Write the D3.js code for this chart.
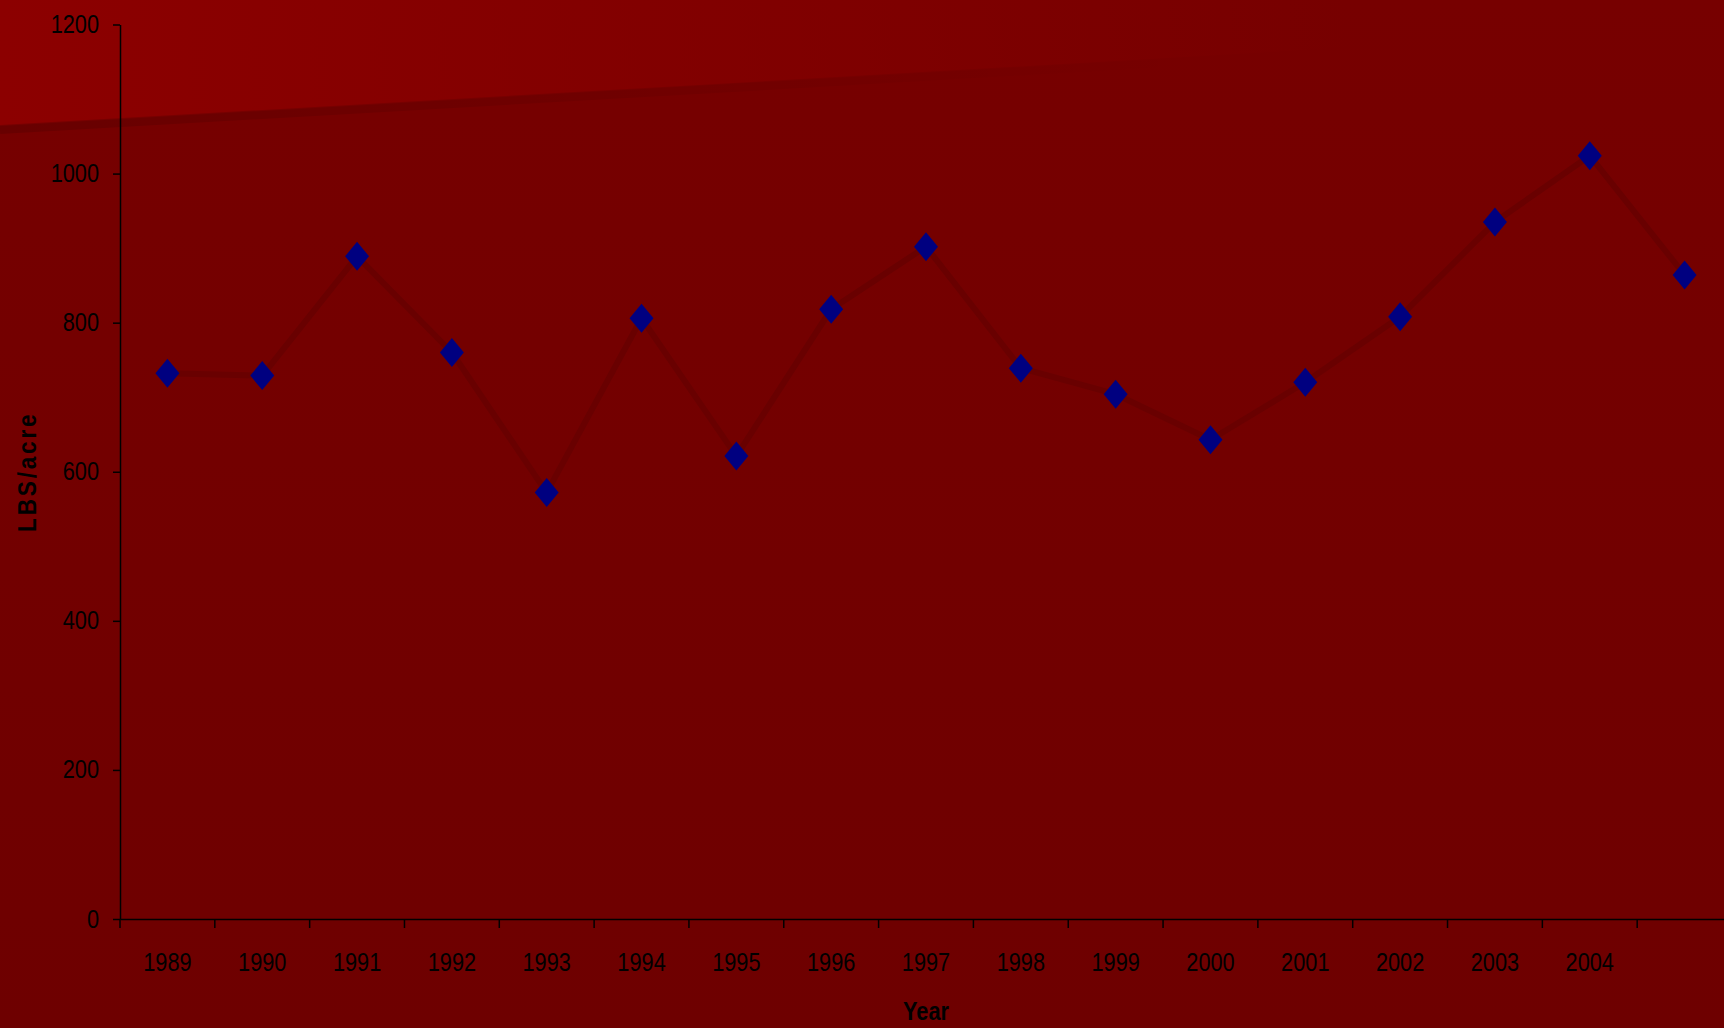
<!DOCTYPE html>
<html>
<head>
<meta charset="utf-8">
<script src="https://cdn.jsdelivr.net/npm/d3@7"></script>
<style>
  body { margin: 0; background: #740000; }
  svg { display: block; }
  text { font-family: "Liberation Sans", Arial, sans-serif; fill: #000; }
</style>
</head>
<body>
<svg id="chart" width="1724" height="1028"></svg>
<script>
// yield per year, LBS/acre
var years = ["1989","1990","1991","1992","1993","1994","1995","1996","1997","1998","1999","2000","2001","2002","2003","2004","2005"];
var yearLabels = ["1989","1990","1991","1992","1993","1994","1995","1996","1997","1998","1999","2000","2001","2002","2003","2004",""];
var lbsPerAcre = [732, 729, 889, 760, 572, 806, 621, 818, 902, 739, 704, 643, 720, 808, 935, 1024, 864];
var yTicks = [0, 200, 400, 600, 800, 1000, 1200];

var W = 1724, H = 1028;
var narrow = 0.87; // squeeze text to look like a narrow face
var svg = d3.select("#chart");
var defs = svg.append("defs");

// background: dark red with a glossy band top-left
var bg = defs.append("linearGradient").attr("id", "bg").attr("x1", 0).attr("y1", 0).attr("x2", 0).attr("y2", 1);
bg.append("stop").attr("offset", "0%").attr("stop-color", "#770000");
bg.append("stop").attr("offset", "100%").attr("stop-color", "#6e0000");
var gloss = defs.append("linearGradient").attr("id", "gloss").attr("gradientUnits", "userSpaceOnUse")
  .attr("x1", 0).attr("y1", 0).attr("x2", 1350).attr("y2", 0);
gloss.append("stop").attr("offset", "0%").attr("stop-color", "#8c0000").attr("stop-opacity", 1);
gloss.append("stop").attr("offset", "100%").attr("stop-color", "#8c0000").attr("stop-opacity", 0);
var edge = defs.append("linearGradient").attr("id", "edge").attr("gradientUnits", "userSpaceOnUse")
  .attr("x1", 0).attr("y1", 0).attr("x2", 1200).attr("y2", 0);
edge.append("stop").attr("offset", "0%").attr("stop-color", "#000").attr("stop-opacity", 0.12);
edge.append("stop").attr("offset", "100%").attr("stop-color", "#000").attr("stop-opacity", 0);

svg.append("rect").attr("width", W).attr("height", H).attr("fill", "url(#bg)");
svg.append("path").attr("d", "M0,0L" + W + ",0L" + W + ",26L0,125Z").attr("fill", "url(#gloss)");
svg.append("path").attr("d", "M0,130L" + W + ",31").attr("stroke", "url(#edge)").attr("stroke-width", 8).attr("fill", "none");

var x = d3.scaleBand().domain(years).range([120, 1732]);
var y = d3.scaleLinear().domain([0, 1200]).range([919, 24.5]);

// y axis
var yAxis = svg.append("g").attr("transform", "translate(120,0)")
  .call(d3.axisLeft(y).tickValues(yTicks).tickFormat(d3.format("d"))
    .tickSize(7).tickSizeOuter(0).tickPadding(14));
yAxis.select(".domain").attr("stroke", "#000").attr("stroke-width", 1.5);
yAxis.selectAll(".tick line").attr("stroke", "#000").attr("stroke-width", 1.5);
yAxis.selectAll(".tick text").attr("font-size", 25).attr("fill", "#000")
  .attr("x", -21 / narrow).attr("transform", "scale(" + narrow + ",1)");

// x axis
var xAxis = svg.append("g").attr("transform", "translate(0,919)")
  .call(d3.axisBottom(x).tickSize(0).tickSizeOuter(0).tickPadding(34)
    .tickFormat(function(d, i) { return yearLabels[i]; }));
xAxis.select(".domain").attr("stroke", "#000").attr("stroke-width", 1.5);
xAxis.selectAll(".tick text").attr("font-size", 25).attr("fill", "#000")
  .attr("transform", "scale(" + narrow + ",1)");
xAxis.selectAll(".boundary")
  .data(years)
  .join("line")
  .attr("class", "boundary")
  .attr("x1", function(d) { return x(d); })
  .attr("x2", function(d) { return x(d); })
  .attr("y1", 0).attr("y2", 9)
  .attr("stroke", "#000").attr("stroke-width", 1.5);

// axis titles
svg.append("text")
  .attr("transform", "translate(" + (x.range()[0] / 2 + x.range()[1] / 2) + ",1020) scale(" + narrow + ",1)")
  .attr("text-anchor", "middle").attr("font-size", 25).attr("font-weight", "bold")
  .text("Year");
svg.append("text")
  .attr("transform", "translate(36," + ((y(0) + y(1200)) / 2) + ") rotate(-90) scale(" + narrow + ",1)")
  .attr("text-anchor", "middle").attr("font-size", 26).attr("font-weight", "bold")
  .attr("letter-spacing", 3.2)
  .text("LBS/acre");

// series line
var cx = function(d, i) { return x(years[i]) + x.bandwidth() / 2; };
var line = d3.line().x(cx).y(function(d) { return y(d); });
svg.append("path").datum(lbsPerAcre)
  .attr("d", line)
  .attr("fill", "none").attr("stroke", "#690000").attr("stroke-width", 6)
  .attr("stroke-linejoin", "round");

// diamond markers
svg.selectAll(".pt")
  .data(lbsPerAcre)
  .join("path")
  .attr("class", "pt")
  .attr("transform", function(d, i) { return "translate(" + cx(d, i) + "," + y(d) + ")"; })
  .attr("d", "M0,-14.5L12,0L0,14.5L-12,0Z")
  .attr("fill", "#000080");
</script>
</body>
</html>
